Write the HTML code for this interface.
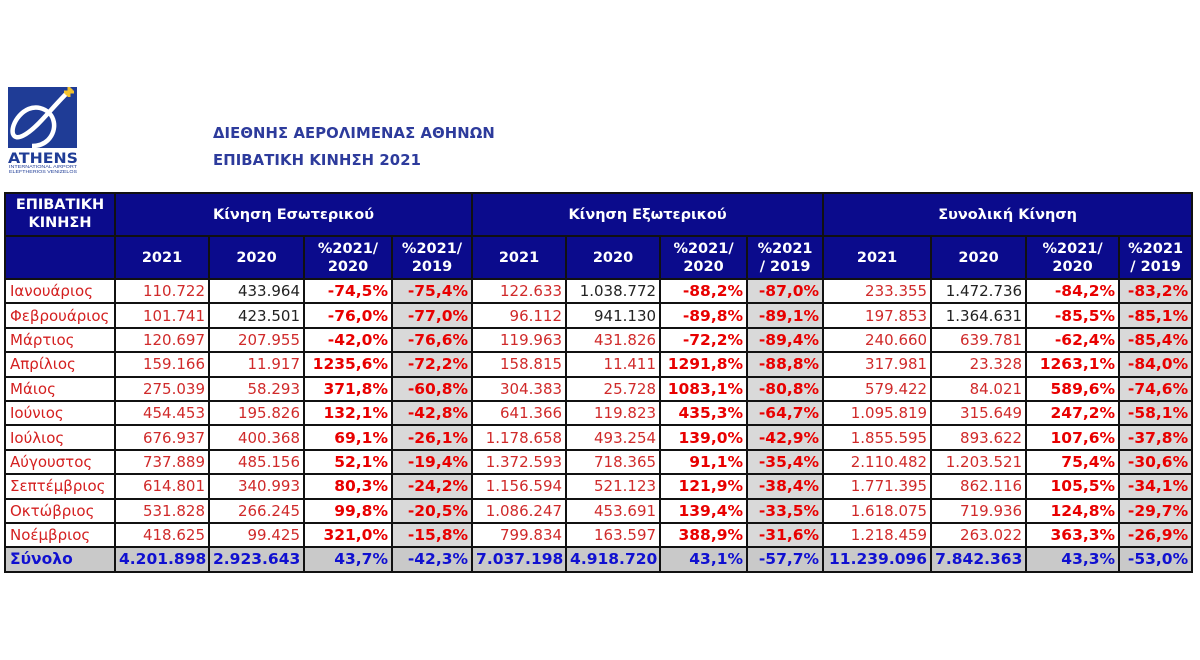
<!DOCTYPE html>
<html>
<head>
<meta charset="utf-8">
<style>
  html,body{margin:0;padding:0;background:#fff;}
  body{width:1200px;height:660px;position:relative;overflow:hidden;font-family:"DejaVu Sans","Liberation Sans",sans-serif;}
  .title{position:absolute;left:213px;color:#2d3b9c;font-weight:bold;font-size:14.8px;letter-spacing:0.1px;white-space:nowrap;}
  table{position:absolute;left:4px;top:192px;border-collapse:collapse;table-layout:fixed;width:1187px;}
  td{border:2px solid #111;padding:0 3px;white-space:nowrap;font-size:15px;overflow:hidden;}
  .h td{background:#0b0b8c;color:#fff;font-weight:bold;text-align:center;font-size:14.5px;line-height:18px;}
  .h1 td{height:39px;}
  .h2 td{height:41px;}
  .d td{height:22.4px;line-height:20px;text-align:right;color:#d02a2a;}
  .d td.m{text-align:left;color:#d42020;padding-left:4px;}
  .d td.k{color:#222;}
  .d td.p{font-weight:bold;color:#e80000;font-size:15.5px;}
  .d td.g{background:#d9d9d9;}
  .t td{background:#c9c9c9;color:#1010d0;font-weight:bold;font-size:15.5px;}
  .t td.m{color:#1010d0;}
</style>
</head>
<body>
<svg style="position:absolute;left:0;top:0" width="100" height="180">
  <rect x="8" y="87" width="69" height="61" fill="#1f3c96"/>
  <path d="M66 94 C56 104,46 116,38 124 C28 134,16 142,13 134 C10 124,24 104,40 108 C56 112,58 130,48 140 C44 144,38 146,32 146" fill="none" stroke="#fff" stroke-width="4.5"/>
  <path d="M64 92 L74 92 M69 87 L69 97 M66 95 L72 89" stroke="#f2c12e" stroke-width="3"/>
  <text x="43" y="163" text-anchor="middle" font-family="DejaVu Sans" font-weight="bold" font-size="14" fill="#1f3c96" textLength="70" lengthAdjust="spacingAndGlyphs">ATHENS</text>
  <text x="43" y="168" text-anchor="middle" font-family="Liberation Sans" font-size="4.5" fill="#1f3c96" textLength="68" lengthAdjust="spacingAndGlyphs">INTERNATIONAL AIRPORT</text>
  <text x="43" y="173" text-anchor="middle" font-family="Liberation Sans" font-size="4.5" fill="#1f3c96" textLength="68" lengthAdjust="spacingAndGlyphs">ELEFTHERIOS VENIZELOS</text>
</svg>
<div class="title" style="top:125px;">ΔΙΕΘΝΗΣ ΑΕΡΟΛΙΜΕΝΑΣ ΑΘΗΝΩΝ</div>
<div class="title" style="top:152px;">ΕΠΙΒΑΤΙΚΗ ΚΙΝΗΣΗ 2021</div>

<table>
<colgroup>
<col style="width:110px"><col style="width:94px"><col style="width:95px"><col style="width:88px"><col style="width:80px">
<col style="width:94px"><col style="width:94px"><col style="width:87px"><col style="width:76px">
<col style="width:108px"><col style="width:95px"><col style="width:93px"><col style="width:73px">
</colgroup>
<tr class="h h1"><td style="vertical-align:top;padding-top:2px;">ΕΠΙΒΑΤΙΚΗ<br>ΚΙΝΗΣΗ</td><td colspan="4">Κίνηση Εσωτερικού</td><td colspan="4">Κίνηση Εξωτερικού</td><td colspan="4">Συνολική Κίνηση</td></tr>
<tr class="h h2"><td></td><td>2021</td><td>2020</td><td>%2021/<br>2020</td><td>%2021/<br>2019</td><td>2021</td><td>2020</td><td>%2021/<br>2020</td><td>%2021<br>/ 2019</td><td>2021</td><td>2020</td><td>%2021/<br>2020</td><td>%2021<br>/ 2019</td></tr>
<tr class="d"><td class="m">Ιανουάριος</td><td>110.722</td><td class="k">433.964</td><td class="p">-74,5%</td><td class="p g">-75,4%</td><td>122.633</td><td class="k">1.038.772</td><td class="p">-88,2%</td><td class="p g">-87,0%</td><td>233.355</td><td class="k">1.472.736</td><td class="p">-84,2%</td><td class="p g">-83,2%</td></tr>
<tr class="d"><td class="m">Φεβρουάριος</td><td>101.741</td><td class="k">423.501</td><td class="p">-76,0%</td><td class="p g">-77,0%</td><td>96.112</td><td class="k">941.130</td><td class="p">-89,8%</td><td class="p g">-89,1%</td><td>197.853</td><td class="k">1.364.631</td><td class="p">-85,5%</td><td class="p g">-85,1%</td></tr>
<tr class="d"><td class="m">Μάρτιος</td><td>120.697</td><td>207.955</td><td class="p">-42,0%</td><td class="p g">-76,6%</td><td>119.963</td><td>431.826</td><td class="p">-72,2%</td><td class="p g">-89,4%</td><td>240.660</td><td>639.781</td><td class="p">-62,4%</td><td class="p g">-85,4%</td></tr>
<tr class="d"><td class="m">Απρίλιος</td><td>159.166</td><td>11.917</td><td class="p">1235,6%</td><td class="p g">-72,2%</td><td>158.815</td><td>11.411</td><td class="p">1291,8%</td><td class="p g">-88,8%</td><td>317.981</td><td>23.328</td><td class="p">1263,1%</td><td class="p g">-84,0%</td></tr>
<tr class="d"><td class="m">Μάιος</td><td>275.039</td><td>58.293</td><td class="p">371,8%</td><td class="p g">-60,8%</td><td>304.383</td><td>25.728</td><td class="p">1083,1%</td><td class="p g">-80,8%</td><td>579.422</td><td>84.021</td><td class="p">589,6%</td><td class="p g">-74,6%</td></tr>
<tr class="d"><td class="m">Ιούνιος</td><td>454.453</td><td>195.826</td><td class="p">132,1%</td><td class="p g">-42,8%</td><td>641.366</td><td>119.823</td><td class="p">435,3%</td><td class="p g">-64,7%</td><td>1.095.819</td><td>315.649</td><td class="p">247,2%</td><td class="p g">-58,1%</td></tr>
<tr class="d"><td class="m">Ιούλιος</td><td>676.937</td><td>400.368</td><td class="p">69,1%</td><td class="p g">-26,1%</td><td>1.178.658</td><td>493.254</td><td class="p">139,0%</td><td class="p g">-42,9%</td><td>1.855.595</td><td>893.622</td><td class="p">107,6%</td><td class="p g">-37,8%</td></tr>
<tr class="d"><td class="m">Αύγουστος</td><td>737.889</td><td>485.156</td><td class="p">52,1%</td><td class="p g">-19,4%</td><td>1.372.593</td><td>718.365</td><td class="p">91,1%</td><td class="p g">-35,4%</td><td>2.110.482</td><td>1.203.521</td><td class="p">75,4%</td><td class="p g">-30,6%</td></tr>
<tr class="d"><td class="m">Σεπτέμβριος</td><td>614.801</td><td>340.993</td><td class="p">80,3%</td><td class="p g">-24,2%</td><td>1.156.594</td><td>521.123</td><td class="p">121,9%</td><td class="p g">-38,4%</td><td>1.771.395</td><td>862.116</td><td class="p">105,5%</td><td class="p g">-34,1%</td></tr>
<tr class="d"><td class="m">Οκτώβριος</td><td>531.828</td><td>266.245</td><td class="p">99,8%</td><td class="p g">-20,5%</td><td>1.086.247</td><td>453.691</td><td class="p">139,4%</td><td class="p g">-33,5%</td><td>1.618.075</td><td>719.936</td><td class="p">124,8%</td><td class="p g">-29,7%</td></tr>
<tr class="d"><td class="m">Νοέμβριος</td><td>418.625</td><td>99.425</td><td class="p">321,0%</td><td class="p g">-15,8%</td><td>799.834</td><td>163.597</td><td class="p">388,9%</td><td class="p g">-31,6%</td><td>1.218.459</td><td>263.022</td><td class="p">363,3%</td><td class="p g">-26,9%</td></tr>
<tr class="d t"><td class="m">Σύνολο</td><td>4.201.898</td><td>2.923.643</td><td>43,7%</td><td>-42,3%</td><td>7.037.198</td><td>4.918.720</td><td>43,1%</td><td>-57,7%</td><td>11.239.096</td><td>7.842.363</td><td>43,3%</td><td>-53,0%</td></tr>
</table>
</body>
</html>
